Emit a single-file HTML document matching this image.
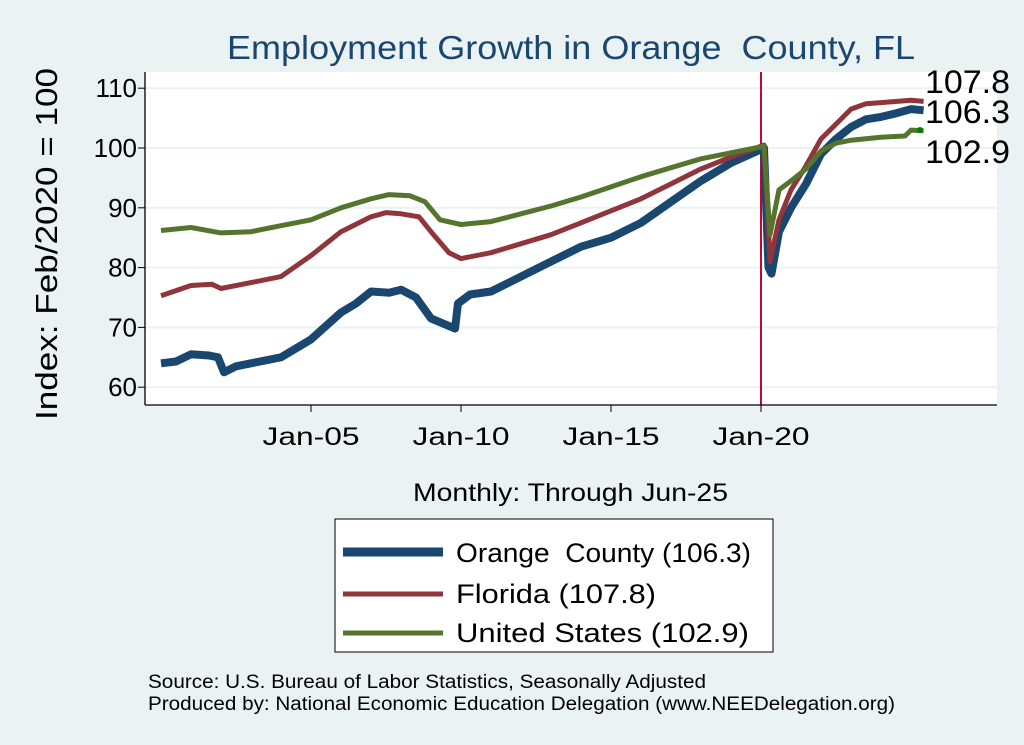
<!DOCTYPE html>
<html><head><meta charset="utf-8"><style>
body{margin:0;background:#eaf2f3;font-family:"Liberation Sans",sans-serif;}
svg{display:block}
</style></head><body>
<svg width="1024" height="745" viewBox="0 0 1024 745" xmlns="http://www.w3.org/2000/svg">
<rect x="0" y="0" width="1024" height="745" fill="#eaf2f3"/>
<rect x="145" y="72" width="852" height="333" fill="#fff"/>
<text x="227" y="59" font-size="33" fill="#1a476f" textLength="688" lengthAdjust="spacingAndGlyphs" xml:space="preserve">Employment Growth in Orange  County, FL</text>
<g id="grid"></g>
<line x1="761" y1="72" x2="761" y2="405" stroke="#c10534" stroke-width="2"/>
<g id="series"></g>
<line x1="145" y1="72" x2="145" y2="405" stroke="#000" stroke-width="1.3"/>
<line x1="145" y1="405" x2="997" y2="405" stroke="#000" stroke-width="1.3"/>
<g id="ticks"></g>
<text transform="translate(57,244) rotate(-90)" text-anchor="middle" font-size="31" fill="#000" textLength="352" lengthAdjust="spacingAndGlyphs">Index: Feb/2020 = 100</text>
<text x="413" y="501" font-size="25" fill="#000" textLength="315" lengthAdjust="spacingAndGlyphs">Monthly: Through Jun-25</text>
<text x="925" y="93" font-size="32" fill="#000" textLength="85" lengthAdjust="spacingAndGlyphs">107.8</text>
<text x="925" y="123" font-size="32" fill="#000" textLength="85" lengthAdjust="spacingAndGlyphs">106.3</text>
<text x="925" y="163" font-size="32" fill="#000" textLength="85" lengthAdjust="spacingAndGlyphs">102.9</text>
<circle cx="920" cy="130" r="3" fill="#008000"/>
<g>
<rect x="335" y="519" width="438" height="133" fill="#fff" stroke="#000" stroke-width="1"/>
<line x1="343" y1="552" x2="443" y2="552" stroke="#1a476f" stroke-width="9"/>
<text x="456" y="562" font-size="27" textLength="295" lengthAdjust="spacingAndGlyphs" xml:space="preserve">Orange  County (106.3)</text>
<line x1="343" y1="594" x2="443" y2="594" stroke="#90353b" stroke-width="5"/>
<text x="456" y="603" font-size="27" textLength="200" lengthAdjust="spacingAndGlyphs">Florida (107.8)</text>
<line x1="343" y1="633" x2="443" y2="633" stroke="#55752f" stroke-width="5"/>
<text x="456" y="642" font-size="27" textLength="293" lengthAdjust="spacingAndGlyphs">United States (102.9)</text>
</g>
<text x="148" y="688" font-size="19" textLength="558" lengthAdjust="spacingAndGlyphs">Source: U.S. Bureau of Labor Statistics, Seasonally Adjusted</text>
<text x="148" y="710" font-size="19" textLength="747" lengthAdjust="spacingAndGlyphs">Produced by: National Economic Education Delegation (www.NEEDelegation.org)</text>
</svg>
<script>
const yTicks=[60,70,80,90,100,110];
const xTickLabels=["Jan-05","Jan-10","Jan-15","Jan-20"];
const xTickYears=[2005,2010,2015,2020];
const orangeT=[2000,2000.5,2001,2001.6,2001.9,2002.1,2002.5,2003,2004,2005,2006,2006.5,2007,2007.6,2008,2008.5,2009,2009.8,2009.9,2010.3,2011,2012,2013,2014,2015,2016,2017,2018,2019,2020.1,2020.25,2020.35,2020.6,2021,2021.5,2022,2022.5,2023,2023.5,2024,2024.5,2025,2025.42];
const orangeV=[64,64.3,65.5,65.3,65,62.5,63.5,64,65,68,72.5,74,76,75.8,76.3,75,71.5,69.8,74,75.5,76,78.5,81,83.5,85,87.5,91,94.5,97.5,100,80,79,86,90,94,99,101.5,103.5,104.8,105.2,105.8,106.5,106.3];
const flT=[2000,2001,2001.7,2002,2003,2004,2005,2006,2007,2007.5,2008,2008.6,2009,2009.6,2010,2011,2012,2013,2014,2015,2016,2017,2018,2019,2020.1,2020.3,2020.6,2021,2021.5,2022,2022.5,2023,2023.5,2024,2025,2025.42];
const flV=[75.3,77,77.2,76.5,77.5,78.5,82,86,88.5,89.2,89,88.5,86,82.5,81.5,82.5,84,85.5,87.5,89.5,91.5,94,96.5,98.5,100.5,81,88,93,97,101.5,104,106.5,107.4,107.6,108,107.8];
const usT=[2000,2001,2002,2003,2004,2005,2006,2007,2007.6,2008.3,2008.8,2009.3,2010,2011,2012,2013,2014,2015,2016,2017,2018,2019,2020.1,2020.3,2020.6,2021,2021.5,2022,2022.5,2023,2024,2024.8,2025,2025.42];
const usV=[86.2,86.7,85.8,86,87,88,90,91.5,92.2,92,91,88,87.2,87.7,89,90.3,91.8,93.5,95.2,96.7,98.2,99.2,100.3,85.5,93,94.5,96.5,99.5,100.8,101.3,101.8,102,103,102.9];
const NS="http://www.w3.org/2000/svg";
const xs=t=>161+(t-2000)*30;
const ys=v=>148-(v-100)*5.98;
const grid=document.getElementById('grid'),ticks=document.getElementById('ticks'),series=document.getElementById('series');
yTicks.forEach(v=>{
 const l=document.createElementNS(NS,'line');
 l.setAttribute('x1',146);l.setAttribute('x2',997);l.setAttribute('y1',ys(v));l.setAttribute('y2',ys(v));
 l.setAttribute('stroke','#eaf2f3');l.setAttribute('stroke-width',2);
 
 
 grid.appendChild(l);
 const tk=document.createElementNS(NS,'line');
 tk.setAttribute('x1',138);tk.setAttribute('x2',145);tk.setAttribute('y1',ys(v));tk.setAttribute('y2',ys(v));tk.setAttribute('stroke','#000');
 
 
 ticks.appendChild(tk);
 const t=document.createElementNS(NS,'text');
 t.setAttribute('x',137);t.setAttribute('y',ys(v)+9);t.setAttribute('text-anchor','end');t.setAttribute('font-size','26');
 t.textContent=v;
 
 
 ticks.appendChild(t);
});
xTickYears.forEach((yr,i)=>{
 const tk=document.createElementNS(NS,'line');
 tk.setAttribute('x1',xs(yr));tk.setAttribute('x2',xs(yr));tk.setAttribute('y1',405);tk.setAttribute('y2',412);tk.setAttribute('stroke','#000');
 
 
 ticks.appendChild(tk);
 const t=document.createElementNS(NS,'text');
 t.setAttribute('x',xs(yr));t.setAttribute('y',445);t.setAttribute('text-anchor','middle');t.setAttribute('font-size','25');
 t.setAttribute('textLength','97');t.setAttribute('lengthAdjust','spacingAndGlyphs');
 t.textContent=xTickLabels[i];
 
 
 ticks.appendChild(t);
});
function draw(T,V,color,w,name){
 const p=document.createElementNS(NS,'polyline');
 p.setAttribute('points',T.map((t,i)=>xs(t).toFixed(1)+','+ys(V[i]).toFixed(1)).join(' '));
 p.setAttribute('fill','none');p.setAttribute('stroke',color);p.setAttribute('stroke-width',w);p.setAttribute('stroke-linejoin','round');
 
 
 series.appendChild(p);
}
draw(orangeT,orangeV,'#1a476f',8,'orange-county-line');
draw(flT,flV,'#90353b',5,'florida-line');
draw(usT,usV,'#55752f',5,'us-line');
</script>
</body></html>
